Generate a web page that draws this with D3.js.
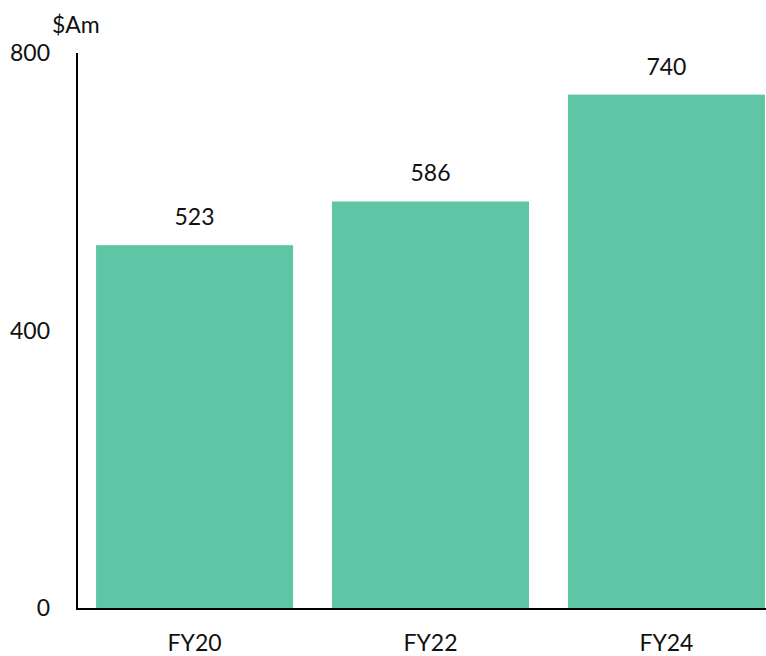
<!DOCTYPE html>
<html>
<head>
<meta charset="utf-8">
<script src="https://cdn.jsdelivr.net/npm/d3@7"></script>
<style>
  body { margin: 0; background: #fff; }
  text { font-family: Lato, "Open Sans", sans-serif; fill: #111; }
</style>
</head>
<body>
<svg></svg>
<script>
let width = 766;
let height = 656;

let years = ['FY20', 'FY22', 'FY24'];
let values = [523, 586, 740];
let yTicks = [0, 400, 800];

let xScale = d3.scaleBand()
                .domain(years)
                .range([76, 785])
                .paddingInner(0.165)
                .paddingOuter(0.085);

let yScale = d3.scaleLinear()
                .domain([0, 800])
                .range([608, 53]);

const svg = d3.select('svg')
                .attr('width', width)
                .attr('height', height);

// bars
svg.selectAll('rect.bar')
    .data(values)
    .enter()
    .append('rect')
        .attr('class', 'bar')
        .attr('x', (d, i) => xScale(years[i]))
        .attr('y', d => yScale(d))
        .attr('width', xScale.bandwidth())
        .attr('height', d => yScale(0) - yScale(d))
        .attr('fill', '#5EC6A4');

// value labels
svg.selectAll('text.val')
    .data(values)
    .enter()
    .append('text')
        .attr('class', 'val')
        .attr('x', (d, i) => xScale(years[i]) + xScale.bandwidth() / 2)
        .attr('y', d => yScale(d) - 20)
        .attr('text-anchor', 'middle')
        .attr('font-size', 23)
        .text(d => d);

// axes lines
svg.append('line')
    .attr('x1', 77).attr('x2', 77)
    .attr('y1', yScale(800)).attr('y2', yScale(0) + 1)
    .attr('stroke', '#000').attr('stroke-width', 2);

svg.append('line')
    .attr('x1', 76).attr('x2', 766)
    .attr('y1', yScale(0) + 1).attr('y2', yScale(0) + 1)
    .attr('stroke', '#000').attr('stroke-width', 2);

// y tick labels
svg.selectAll('text.ytick')
    .data(yTicks)
    .enter()
    .append('text')
        .attr('class', 'ytick')
        .attr('x', 50)
        .attr('y', d => yScale(d))
        .attr('dy', '0.35em')
        .attr('text-anchor', 'end')
        .attr('font-size', 23)
        .text(d => d);

// x labels
svg.selectAll('text.xlab')
    .data(years)
    .enter()
    .append('text')
        .attr('class', 'xlab')
        .attr('x', d => xScale(d) + xScale.bandwidth() / 2)
        .attr('y', 643)
        .attr('dy', '0.35em')
        .attr('text-anchor', 'middle')
        .attr('font-size', 23)
        .text(d => d);

// unit
svg.append('text')
    .attr('x', 52)
    .attr('y', 25)
    .attr('dy', '0.35em')
    .attr('font-size', 23)
    .text('$Am');
</script>
</body>
</html>
